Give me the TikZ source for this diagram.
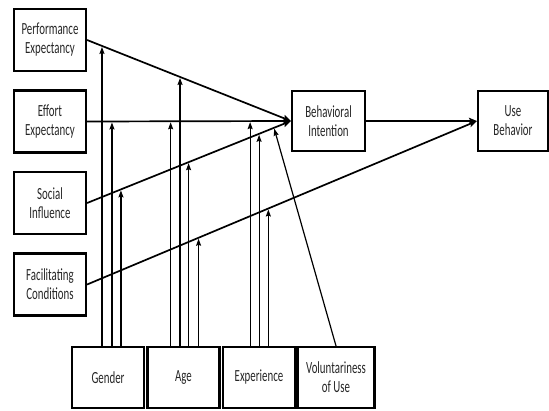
\documentclass[tikz,border=0pt]{standalone}
\usepackage{fontspec}
\newfontfamily\boxfont{Carlito}[FakeStretch=0.64]
\usetikzlibrary{arrows.meta,positioning}

\begin{document}
\begin{tikzpicture}[
    x=1pt, y=-1pt,
    node distance=81.5pt,
    factor/.style={rectangle, draw=black, line width=2.2pt, align=center, minimum width=72pt, minimum height=62pt, inner sep=0pt, font=\boxfont\fontsize{17}{19}\selectfont, text=black!85},
    outcome/.style={factor, minimum width=73pt, minimum height=60pt},
    moderator/.style={factor, minimum height=61pt},
    mainarrow/.style={->, >={Stealth[length=8pt,width=6.5pt,inset=1.5pt]}, draw=black, line width=1.7pt},
    modarrow/.style={->, >={Stealth[length=7pt,width=5pt,inset=1pt]}, draw=black, line width=1.2pt, shorten >=1pt}
]
\useasboundingbox (0,0) rectangle (549,410);

% Determinants
\node [factor] (pe) at (50,40) {Performance\\Expectancy};
\node [factor, below of=pe] (ee) {Effort\\Expectancy};
\node [factor, below of=ee] (si) {Social\\Influence};
\node [factor, below of=si] (fc) {Facilitating\\Conditions};

% Outcomes
\node [outcome] (bi) at (328.5,121) {Behavioral\\Intention};
\node [outcome, minimum width=70pt] (ub) at (513,121) {Use\\Behavior};

% Moderators
\node [moderator] (gender) at (108,377.5) {Gender};
\node [moderator, right of=gender, node distance=75.5pt] (age) {Age};
\node [moderator, right of=age, node distance=75.5pt] (exp) {Experience};
\node [moderator, right of=exp, node distance=77pt, minimum width=77pt] (vol) {Voluntariness\\of Use};

% Main paths
\draw [mainarrow] (pe.east) -- (bi.west);
\draw [mainarrow] (ee.east) -- (bi.west);
\draw [mainarrow] (si.east) -- (bi.west);
\draw [mainarrow] (fc.east) -- (ub.west);
\draw [mainarrow] (bi.east) -- (ub.west);

% Points where moderators meet the paths
\path (pe.east) -- (bi.west) coordinate[pos=0.073] (pe1) coordinate[pos=0.456] (pe2);
\path (ee.east) -- (bi.west) coordinate[pos=0.122] (ee1) coordinate[pos=0.41] (ee2) coordinate[pos=0.80] (ee3);
\path (si.east) -- (bi.west) coordinate[pos=0.166] (si1) coordinate[pos=0.498] (si2) coordinate[pos=0.844] (si3) coordinate[pos=0.917] (si4);
\path (fc.east) -- (ub.west) coordinate[pos=0.286] (fc1) coordinate[pos=0.465] (fc2);

% Gender
\draw [modarrow] (pe1 |- gender.north) -- (pe1);
\draw [modarrow] (ee1 |- gender.north) -- (ee1);
\draw [modarrow] (si1 |- gender.north) -- (si1);

% Age
\draw [modarrow] (ee2 |- age.north) -- (ee2);
\draw [modarrow] (pe2 |- age.north) -- (pe2);
\draw [modarrow] (si2 |- age.north) -- (si2);
\draw [modarrow] (fc1 |- age.north) -- (fc1);

% Experience
\draw [modarrow] (ee3 |- exp.north) -- (ee3);
\draw [modarrow] (si3 |- exp.north) -- (si3);
\draw [modarrow] (fc2 |- exp.north) -- (fc2);

% Voluntariness
\draw [modarrow] (vol.north) -- (si4);

\end{tikzpicture}
\end{document}
